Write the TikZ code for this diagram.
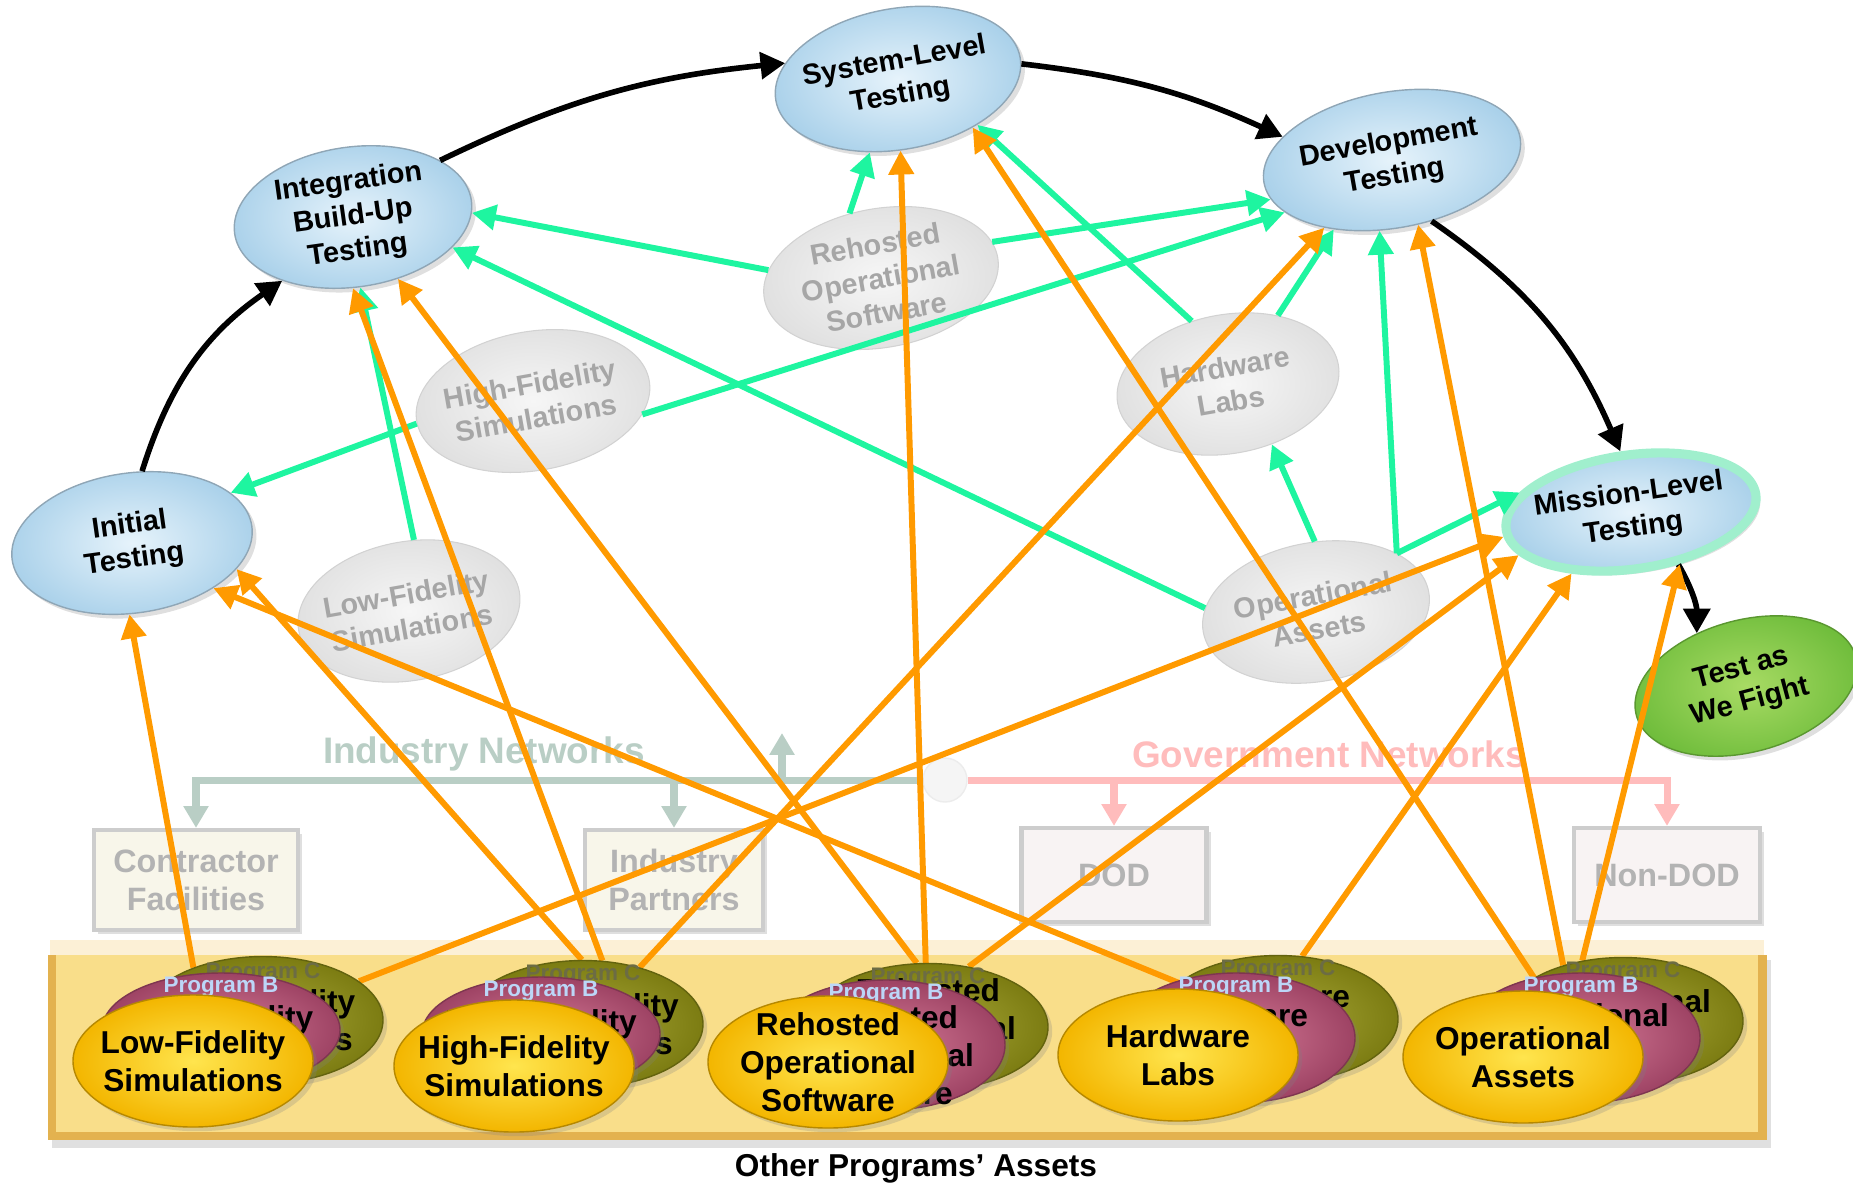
\documentclass[tikz,border=0pt]{standalone}
\usepackage{fontspec}
\setmainfont{Liberation Sans}
\usepackage{tikz}
\usetikzlibrary{shapes.geometric,arrows.meta,shadows}
\pgfdeclarelayer{back}
\pgfdeclarelayer{links}
\pgfsetlayers{back,links,main}
\definecolor{orng}{HTML}{FF9A00}
\definecolor{mint}{HTML}{1EF5A0}
\definecolor{skyin}{HTML}{E6F3FB}
\definecolor{skyout}{HTML}{AAD1EA}
\definecolor{skyedge}{HTML}{8FA6B6}
\definecolor{greyin}{HTML}{F6F6F6}
\definecolor{greyout}{HTML}{E0E0E0}
\definecolor{greytext}{HTML}{A6A6A6}
\definecolor{yelin}{HTML}{FFE54E}
\definecolor{yelout}{HTML}{F3B600}
\definecolor{pinkin}{HTML}{D47A96}
\definecolor{pinkout}{HTML}{9E4364}
\definecolor{olivein}{HTML}{A8A838}
\definecolor{oliveout}{HTML}{7C7C12}
\definecolor{leafin}{HTML}{A8DB64}
\definecolor{leafout}{HTML}{70BD3C}
\definecolor{glow}{HTML}{A0EFCD}
\definecolor{indnet}{HTML}{B9CEC5}
\definecolor{govnet}{HTML}{FFBCBC}
\definecolor{boxtext}{HTML}{B3B3B3}
\definecolor{indbox}{HTML}{F8F6EA}
\definecolor{govbox}{HTML}{F8F3F3}
\definecolor{boxedge}{HTML}{CDCDCD}
\definecolor{bandfill}{HTML}{F9DE8A}
\definecolor{bandedge}{HTML}{E3B24F}
\definecolor{bandtop}{HTML}{FCF0D6}
\definecolor{progB}{HTML}{BCD6F7}
\definecolor{progC}{HTML}{6C6C44}
% pushes a label down inside its ellipse by half of #1
\newcommand{\sunk}[2]{\raisebox{0pt}[\dimexpr\height+#1\relax][\depth]{\begin{tabular}{@{}c@{}}#2\end{tabular}}}
\tikzset{
  softshadow/.style={drop shadow={opacity=0.25, shadow xshift=1.2pt, shadow yshift=-1.2pt}},
  testnode/.style={ellipse, draw=skyedge, line width=0.4pt, inner color=skyin, outer color=skyout,
    inner sep=-5pt, minimum width=2.42cm, minimum height=1.40cm, align=center,
    font=\fontsize{8.2}{9.8}\selectfont\bfseries, softshadow},
  ghost/.style={ellipse, draw=greyout!85!gray, line width=0.3pt, inner color=greyin, outer color=greyout,
    inner sep=-5pt, minimum height=1.39cm, align=center, text=greytext,
    font=\fontsize{8.2}{9.8}\selectfont\bfseries},
  asset/.style={ellipse, inner sep=-8pt, minimum width=2.40cm, align=center,
    font=\fontsize{9}{10.8}\selectfont\bfseries, softshadow},
  front/.style={asset, draw=yelout!75!black, inner color=yelin, outer color=yelout, minimum height=1.32cm},
  backB/.style={asset, draw=pinkout!80!black, inner color=pinkin, outer color=pinkout, minimum height=1.30cm, minimum width=2.38cm},
  backC/.style={asset, draw=oliveout!80!black, inner color=olivein, outer color=oliveout, minimum height=1.27cm},
  progb/.style={text=progB, inner sep=0pt, font=\fontsize{6.4}{7}\selectfont\bfseries},
  progc/.style={text=progC, inner sep=0pt, font=\fontsize{6.4}{7}\selectfont\bfseries},
  netbox/.style={rectangle, draw=boxedge, line width=1.2pt, text=boxtext, align=center, inner sep=0pt,
    font=\fontsize{9.2}{10.8}\selectfont\bfseries, softshadow},
  netlabel/.style={font=\fontsize{10.5}{12}\selectfont\bfseries, inner sep=0pt},
  indarr/.style={draw=indnet, line width=2pt, -{Triangle[length=6.2pt,width=6.8pt]}},
  govarr/.style={draw=govnet, line width=2pt, -{Triangle[length=6.2pt,width=6.8pt]}},
  oarr/.style={draw=orng, line width=1.7pt, -{Triangle[length=6.8pt,width=7pt]}},
  garr/.style={draw=mint, line width=1.7pt, -{Triangle[length=6.8pt,width=7pt]}},
  karr/.style={draw=black, line width=1.6pt, -{Triangle[length=7pt,width=7.5pt]}}
}

\begin{document}
\begin{tikzpicture}
  \useasboundingbox (0,0) rectangle (18.53,-11.85);

  \begin{pgfonlayer}{back}
  % band of the other programs
  \fill[black, opacity=0.12] (0.52,-9.60) rectangle (17.71,-11.48);
  \fill[bandedge] (0.48,-9.55) rectangle (17.67,-11.40);
  \fill[bandfill] (0.56,-9.55) rectangle (17.58,-11.32);
  \fill[bandtop] (0.50,-9.40) rectangle (17.64,-9.55);
  \node[font=\fontsize{9}{10.8}\selectfont\bfseries] (others) at (9.16,-11.68) {Other Programs’ Assets};

  % networks
  \node[netlabel, text=indnet] (indlbl) at (4.84,-7.54) {Industry Networks};
  \node[netlabel, text=govnet] (govlbl) at (13.29,-7.54) {Government Networks};
  \node[netbox, fill=indbox, minimum width=2.04cm, minimum height=1.00cm] (contr) at (1.96,-8.80) {Contractor\\Facilities};
  \node[netbox, fill=indbox, minimum width=1.78cm, minimum height=1.00cm] (partn) at (6.74,-8.80) {Industry\\Partners};
  \node[netbox, fill=govbox, minimum width=1.85cm, minimum height=0.94cm] (dod) at (11.14,-8.75) {DOD};
  \node[netbox, fill=govbox, minimum width=1.86cm, minimum height=0.94cm] (nondod) at (16.67,-8.75) {Non-DOD};
  \coordinate (upfoot) at (7.82,-7.80);
  \coordinate (uptip) at (7.82,-7.33);
  \draw[indarr] (upfoot) -- (uptip);
  \node[circle, fill=gray!8, draw=gray!15, minimum size=0.44cm, inner sep=0pt] (jct) at (9.45,-7.80) {};
  \draw[indarr] (jct) -| (contr);
  \draw[indarr] (jct) -| (partn);
  \draw[govarr] (jct) -| (dod);
  \draw[govarr] (jct) -| (nondod);

  % faded assets
  \node[ghost, rotate=10, minimum width=2.37cm] (reho) at (8.81,-2.78) {Rehosted\\Operational\\Software};
  \node[ghost, rotate=10, minimum width=2.36cm] (hifi) at (5.33,-4.01) {High-Fidelity\\Simulations};
  \node[ghost, rotate=10, minimum width=2.24cm] (lofi) at (4.09,-6.11) {Low-Fidelity\\Simulations};
  \node[ghost, rotate=10, minimum width=2.24cm] (hwl) at (12.28,-3.84) {Hardware\\Labs};
  \node[ghost, rotate=10, minimum width=2.29cm] (opa) at (13.16,-6.12) {Operational\\Assets};

  % test phases
  \node[testnode, rotate=8] (initial) at (1.32,-5.43) {Initial\\Testing};
  \node[testnode, rotate=8, minimum width=2.39cm] (integ) at (3.53,-2.17) {Integration\\Build-Up\\Testing};
  \node[testnode, rotate=10, minimum width=2.48cm, minimum height=1.41cm] (system) at (8.98,-0.79) {System-Level\\Testing};
  \node[testnode, rotate=10, minimum width=2.60cm, minimum height=1.36cm] (devel) at (13.92,-1.60) {Development\\Testing};
  \node[testnode, rotate=8, draw=glow, line width=2.6pt, minimum width=2.52cm, minimum height=1.14cm] (mission) at (16.31,-5.12) {Mission-Level\\Testing};
  \node[testnode, rotate=15, draw=leafout!80!black, inner color=leafin, outer color=leafout, minimum width=2.27cm, minimum height=1.32cm] (twf) at (17.46,-6.86) {Test as\\We Fight};
  \end{pgfonlayer}

  % other programs
  \node[backC] (lfC) at (2.63,-10.20) {\sunk{0.8mm}{Low-Fidelity\\Simulations}};
  \node[progc] (lfCp) at ([yshift=-0.17cm]lfC.north) {Program C};
  \node[backB, minimum height=1.14cm] (lfB) at (2.21,-10.30) {\sunk{2mm}{Low-Fidelity\\Simulations}};
  \node[progb] (lfBp) at ([yshift=-0.15cm]lfB.north) {Program B};
  \node[front] (lf) at (1.93,-10.61) {Low-Fidelity\\Simulations};

  \node[backC] (hfC) at (5.83,-10.24) {\sunk{0.8mm}{High-Fidelity\\Simulations}};
  \node[progc] (hfCp) at ([yshift=-0.15cm]hfC.north) {Program C};
  \node[backB, minimum height=1.14cm] (hfB) at (5.41,-10.34) {\sunk{2mm}{High-Fidelity\\Simulations}};
  \node[progb] (hfBp) at ([yshift=-0.15cm]hfB.north) {Program B};
  \node[front] (hf) at (5.14,-10.66) {High-Fidelity\\Simulations};

  \node[backC] (roC) at (9.28,-10.27) {\sunk{1mm}{Rehosted\\Operational\\Software}};
  \node[progc] (roCp) at ([yshift=-0.15cm]roC.north) {Program C};
  \node[backB] (roB) at (8.86,-10.45) {\sunk{2.8mm}{Rehosted\\Operational\\Software}};
  \node[progb] (roBp) at ([yshift=-0.15cm]roB.north) {Program B};
  \node[front] (ro) at (8.28,-10.62) {Rehosted\\Operational\\Software};

  \node[backC] (hwC) at (12.78,-10.19) {\sunk{0mm}{Hardware\\Labs}};
  \node[progc] (hwCp) at ([yshift=-0.15cm]hwC.north) {Program C};
  \node[backB] (hwB) at (12.36,-10.38) {\sunk{0mm}{Hardware\\Labs}};
  \node[progb] (hwBp) at ([yshift=-0.15cm]hwB.north) {Program B};
  \node[front] (hw) at (11.78,-10.55) {Hardware\\Labs};

  \node[backC] (oaC) at (16.23,-10.21) {\sunk{0.6mm}{Operational\\Assets}};
  \node[progc] (oaCp) at ([yshift=-0.15cm]oaC.north) {Program C};
  \node[backB] (oaB) at (15.81,-10.38) {\sunk{0mm}{Operational\\Assets}};
  \node[progb] (oaBp) at ([yshift=-0.15cm]oaB.north) {Program B};
  \node[front] (oa) at (15.23,-10.57) {Operational\\Assets};

  \begin{pgfonlayer}{links}
  % test flow
  \draw[karr] (initial.74) to[bend left=19] (integ.214);
  \draw[karr] (integ.25) to[bend left=10] (system.162);
  \draw[karr] (system.357) to[bend left=9] (devel.158);
  \draw[karr] (devel.293) to[bend left=16] (mission.92);
  \draw[karr] (mission.304) to[bend left=15] (twf.118);

  % own assets
  \draw[garr] (reho.166) -- (integ.354);
  \draw[garr] (reho.106) -- (system.239);
  \draw[garr] (reho.8) -- (devel.188);
  \draw[garr] (hifi.343) -- (devel.196);
  \draw[garr] (hifi.181) -- (initial.19);
  \draw[garr] (lofi.76) -- (integ.268);
  \draw[garr] (hwl.110) -- (system.320);
  \draw[garr] (hwl.44) -- (devel.220);
  \draw[garr] (opa.168) -- (integ.335);
  \draw[garr] (opa.81) -- (hwl.296);
  \draw[garr] (opa.26) -- (devel.250);
  \draw[garr] (opa.26) -- (mission.162);

  % other programs' assets
  \draw[oarr] (lfC.143) -- (initial.260);
  \draw[oarr] (lfC.22) -- (mission.183);
  \draw[oarr] (hfC.91) -- (initial.338);
  \draw[oarr] (hfC.73) -- (integ.262);
  \draw[oarr] (hfC.45) -- (devel.215);
  \draw[oarr] (roC.100) -- (integ.298);
  \draw[oarr] (roC.92) -- (system.262);
  \draw[oarr] (roC.56) -- (mission.193);
  \draw[oarr] (hwC.160) -- (initial.323);
  \draw[oarr] (hwC.69) -- (mission.218);
  \draw[oarr] (oaC.154) -- (system.317);
  \draw[oarr] (oaC.137) -- (devel.282);
  \draw[oarr] (oaC.124) -- (mission.305);
  \end{pgfonlayer}
\end{tikzpicture}
\end{document}
